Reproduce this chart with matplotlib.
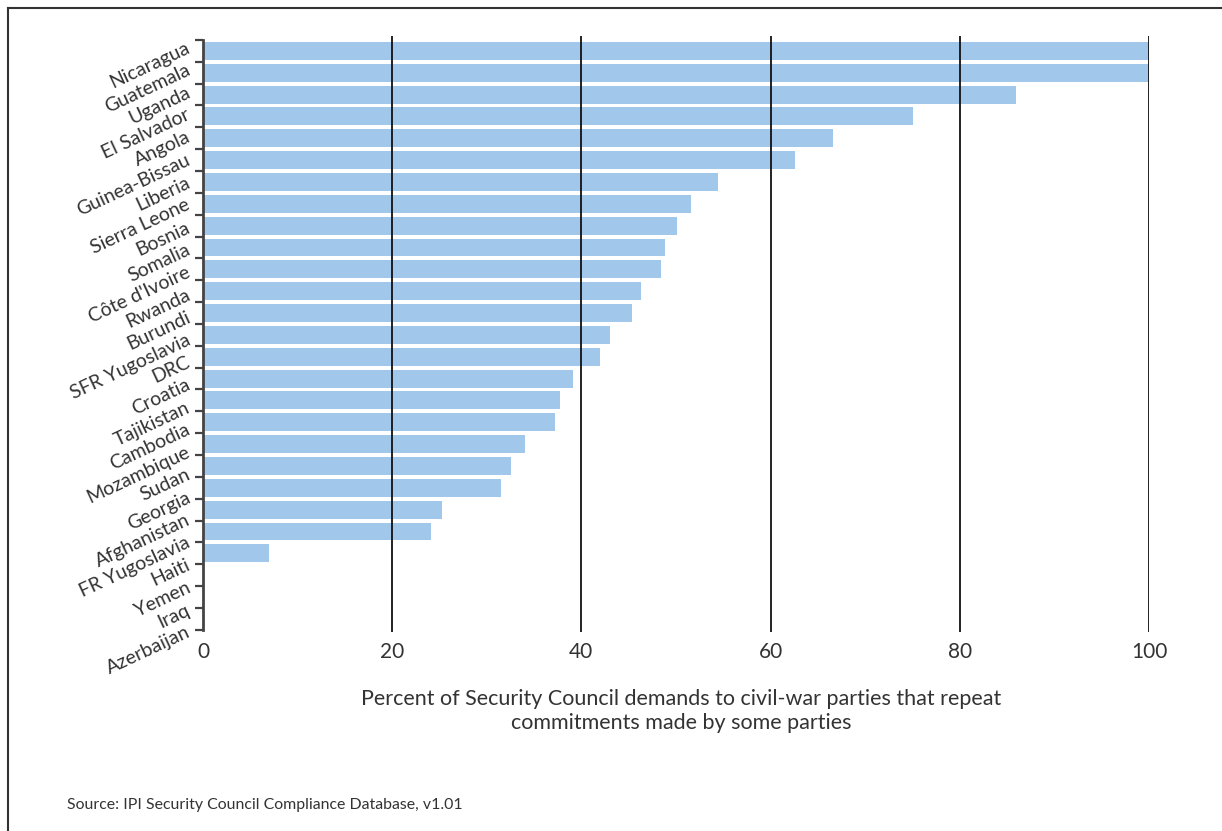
import matplotlib
matplotlib.use("Agg")
import matplotlib.pyplot as plt
import numpy as np
from matplotlib.lines import Line2D

countries = ["Nicaragua", "Guatemala", "Uganda", "El Salvador", "Angola",
             "Guinea-Bissau", "Liberia", "Sierra Leone", "Bosnia", "Somalia",
             "Côte d'Ivoire", "Rwanda", "Burundi", "SFR Yugoslavia", "DRC",
             "Croatia", "Tajikistan", "Cambodia", "Mozambique", "Sudan",
             "Georgia", "Afghanistan", "FR Yugoslavia", "Haiti", "Yemen",
             "Iraq", "Azerbaijan"]
values = [100, 100, 85.9, 75.1, 66.6, 62.6, 54.4, 51.6, 50.1, 48.8,
          48.4, 46.3, 45.3, 43.0, 42.0, 39.1, 37.7, 37.2, 34.0, 32.6,
          31.5, 25.3, 24.1, 7.0, 0, 0, 0]
xticks = [0, 20, 40, 60, 80, 100]
xlabel = "Percent of Security Council demands to civil-war parties that repeat\ncommitments made by some parties"
source = "Source: IPI Security Council Compliance Database, v1.01"

plt.rcParams['font.family'] = ['Lato', 'DejaVu Sans']
TXT = '#333333'

W, H = 1222, 831
fig = plt.figure(figsize=(W/100, H/100), dpi=100)
ax = fig.add_axes([203/W, 1-632/H, (1149-203)/W, (632-36)/H])

n = len(countries)
y = np.arange(n)
ax.barh(y, values, height=0.82, color='#A1C8EA', zorder=1)

ax.set_xlim(0, 100)
ax.set_ylim(n - 0.5 + 0.1, -0.5 - 0.18)

for xv in xticks[1:]:
    ax.axvline(xv, color='#111111', lw=1.3, zorder=3)

for s in ['top', 'right', 'bottom']:
    ax.spines[s].set_visible(False)
ax.spines['left'].set_color('#444444')
ax.spines['left'].set_linewidth(2.0)
ax.spines['left'].set_bounds(-0.5, n - 0.5)
ax.spines['left'].set_zorder(4)

ax.set_xticks(xticks)
ax.set_xticklabels([str(v) for v in xticks], fontsize=15, color=TXT)
ax.tick_params(axis='x', length=0, pad=7)

# boundary ticks
ax.set_yticks(np.arange(n + 1) - 0.5, minor=True)
ax.tick_params(axis='y', which='minor', length=6, width=1.6, color='#444444', direction='out')
# label positions
lab_pos = -0.2 + np.arange(n) * 1.03
ax.set_yticks(lab_pos)
ax.set_yticklabels(countries, fontsize=14, color=TXT, rotation=25,
                   rotation_mode='anchor', ha='right', va='center')
ax.tick_params(axis='y', which='major', length=0, pad=10)

fig.text(681/W, 1-711/H, xlabel, ha='center', va='center', fontsize=15.5,
         color=TXT, linespacing=1.25)

fig.text(67/W, 1-805/H, source, ha='left', va='center', fontsize=11.4,
         color=TXT)

# outer frame (top and left)
fig.add_artist(Line2D([8/W, 1], [1-8/H, 1-8/H], color='#333333', lw=1.5, transform=fig.transFigure))
fig.add_artist(Line2D([8/W, 8/W], [0, 1-8/H], color='#333333', lw=1.5, transform=fig.transFigure))

fig.savefig('out.png', dpi=100)
